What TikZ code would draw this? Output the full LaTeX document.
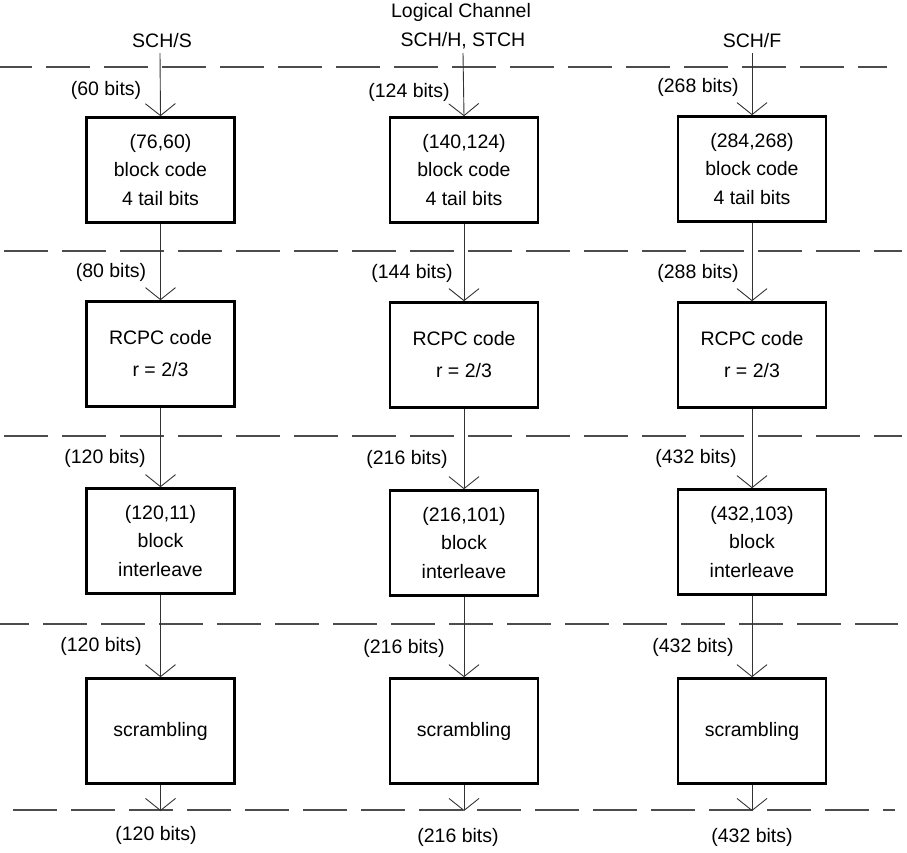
\documentclass[tikz,border=0pt]{standalone}
\usepackage{fontspec}
\setmainfont{Liberation Sans}
\usetikzlibrary{arrows.meta}
\begin{document}
\begin{tikzpicture}[x=1pt,y=-1pt,
  every node/.style={font=\fontsize{19.5}{28.5}\selectfont, inner sep=0pt, text=black},
  proc/.style={draw=black, line width=2.6pt, minimum width=148pt, minimum height=105pt, align=center},
  flow/.style={draw=black!80, line width=0.9pt, -{Straight Barb[length=12pt,width=30pt]}},
  sep/.style={draw=black!70, line width=1.4pt, dash pattern=on 44pt off 14pt}]
\useasboundingbox (0,0) rectangle (907,852);

% separators
\draw[sep] (-12,67) -- (887,67);
\draw[sep] (4,251) -- (902,251);
\draw[sep] (4,436) -- (902,436);
\draw[sep] (-15,624) -- (898,624);
\draw[sep] (13,810) -- (895,810);

% header
\node (hdr) at (461,12) {Logical Channel};
\node (chS) at (162,41) {SCH/S};
\node (chH) at (463,41) {SCH/H, STCH};
\node (chF) at (752,41) {SCH/F};

\coordinate (sL) at (160,53);
\coordinate (sC) at (463,53);
\coordinate (sR) at (752,53);

% left column
\node[proc] (L1) at (160.5,170) {(76,60)\\block code\\4 tail bits};
\node[proc] (L2) at (160.5,354) {RCPC code\\[3.5pt]r = 2/3};
\node[proc] (L3) at (160.5,541) {(120,11)\\block\\interleave};
\node[proc] (L4) at (160.5,731) {scrambling};
\coordinate (eL) at (160.5,811);

% center column
\node[proc] (C1) at (464,170) {(140,124)\\block code\\4 tail bits};
\node[proc] (C2) at (464,355) {RCPC code\\[3.5pt]r = 2/3};
\node[proc] (C3) at (464,543) {(216,101)\\block\\interleave};
\node[proc] (C4) at (464,731) {scrambling};
\coordinate (eC) at (464,811);

% right column
\node[proc] (R1) at (752,169) {(284,268)\\block code\\4 tail bits};
\node[proc] (R2) at (752,355) {RCPC code\\[3.5pt]r = 2/3};
\node[proc] (R3) at (752,542) {(432,103)\\block\\interleave};
\node[proc] (R4) at (752,731) {scrambling};
\coordinate (eR) at (752,811);

% flows
\draw[flow] (sL) -- (L1.north);
\draw[flow] (L1) -- (L2.north);
\draw[flow] (L2) -- (L3.north);
\draw[flow] (L3) -- (L4.north);
\draw[flow] (L4.south) -- (eL);

\draw[flow] (sC) -- (C1.north);
\draw[flow] (C1) -- (C2.north);
\draw[flow] (C2) -- (C3.north);
\draw[flow] (C3) -- (C4.north);
\draw[flow] (C4.south) -- (eC);

\draw[flow] (sR) -- (R1.north);
\draw[flow] (R1) -- (R2.north);
\draw[flow] (R2) -- (R3.north);
\draw[flow] (R3) -- (R4.north);
\draw[flow] (R4.south) -- (eR);

% bit labels
\node (lL0) at (106,90) {(60 bits)};
\node (lL1) at (111,272) {(80 bits)};
\node (lL2) at (105,458) {(120 bits)};
\node (lL3) at (101,646) {(120 bits)};
\node (lL4) at (156,835) {(120 bits)};

\node (lC0) at (409,92) {(124 bits)};
\node (lC1) at (412,273) {(144 bits)};
\node (lC2) at (407,459) {(216 bits)};
\node (lC3) at (404,648) {(216 bits)};
\node (lC4) at (458,837) {(216 bits)};

\node (lR0) at (698,87) {(268 bits)};
\node (lR1) at (698,273) {(288 bits)};
\node (lR2) at (696,458) {(432 bits)};
\node (lR3) at (693,647) {(432 bits)};
\node (lR4) at (752,837) {(432 bits)};
\end{tikzpicture}
\end{document}
